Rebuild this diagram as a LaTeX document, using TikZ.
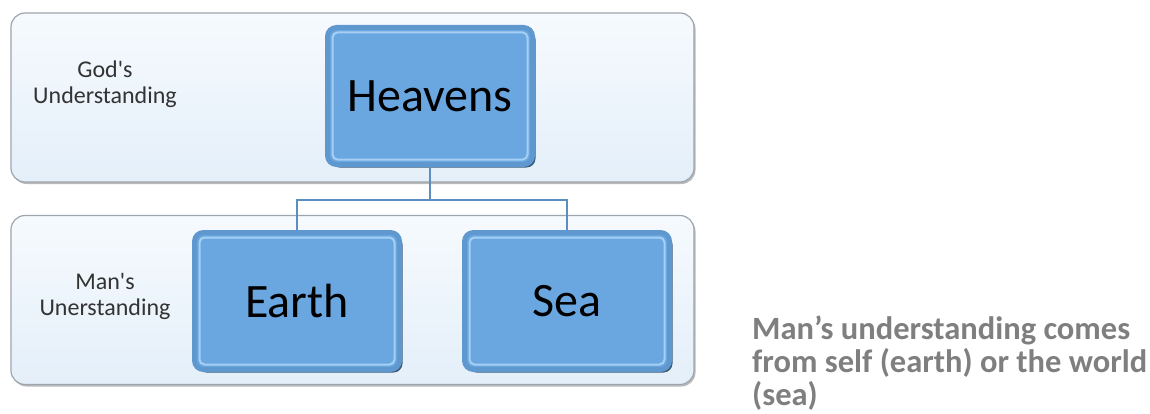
\documentclass[tikz,border=0pt]{standalone}
\usepackage{fontspec}
\setmainfont{Carlito}
\usetikzlibrary{positioning,shadows}
\definecolor{bandtop}{HTML}{F6FAFE}
\definecolor{bandbot}{HTML}{E4EFF9}
\definecolor{bandedge}{HTML}{9EA5AD}
\definecolor{boxface}{HTML}{6AA7E0}
\definecolor{boxrim}{HTML}{5F98CF}
\definecolor{boxlight}{HTML}{A5D0F3}
\definecolor{boxdark}{HTML}{2B4A6B}
\definecolor{linkblue}{HTML}{5C8FC0}
\definecolor{notegray}{HTML}{7F7F7F}
\tikzset{x=1pt,y=1pt,
	node distance=60pt,
	band/.style={
		draw=bandedge,
		line width=1.2pt,
		rounded corners=14pt,
		top color=bandtop,
		bottom color=bandbot,
		minimum width=683pt,
		minimum height=169pt,
		drop shadow={shadow xshift=1.5pt, shadow yshift=-2pt, fill=black!45, opacity=.6}
	},
	bevelbox/.style={
		draw=boxrim,
		line width=5pt,
		fill=boxface,
		rounded corners=9pt,
		minimum width=205pt,
		minimum height=137pt,
		inner sep=0pt,
		font=\fontsize{48}{50}\selectfont,
		drop shadow={shadow xshift=3pt, shadow yshift=-3pt, fill=boxdark, opacity=.9},
		path picture={
			\draw[boxlight, line width=2pt, rounded corners=5pt]
				([shift={(5pt,-5pt)}]path picture bounding box.north west) rectangle
				([shift={(-5pt,5pt)}]path picture bounding box.south east);
		}
	},
	sidelabel/.style={
		font=\fontsize{24}{26}\selectfont,
		text=black!80
	},
	link/.style={
		draw=linkblue,
		line width=1.4pt
	}
}
\begin{document}
\begin{tikzpicture}
	\useasboundingbox (0,0) rectangle (1150,413);
	% the two layers
	\node[band] (topband) at (352.5,315.5) {};
	\node[band] (lowband) at (352.5,113) {};
	\node[sidelabel] (god) at (105,328) {
		\begin{tabular}{c}
			God\textquotesingle s\\
			Understanding
		\end{tabular}};
	\node[sidelabel] (man) at (105,116) {
		\begin{tabular}{c}
			Man\textquotesingle s\\
			Unerstanding
		\end{tabular}};
	% boxes
	\node[bevelbox] (heavens) at (430,317) {Heavens};
	\node[bevelbox, below=63pt of heavens, xshift=-133pt] (earth) {Earth};
	\node[bevelbox, right=of earth] (sea) {Sea};
	\coordinate[below=33pt of heavens.south] (fork);
	\draw[link] (heavens) -- (fork) -| (earth);
	\draw[link] (fork) -| (sea);
	% note on the right
	\node[anchor=south west, align=left, inner sep=0pt, text=notegray,
		font=\bfseries\fontsize{32.5}{33}\selectfont] (note) at (752,2) {
		Man’s understanding comes\\
		from self (earth) or the world\\
		(sea)};
\end{tikzpicture}
\end{document}
